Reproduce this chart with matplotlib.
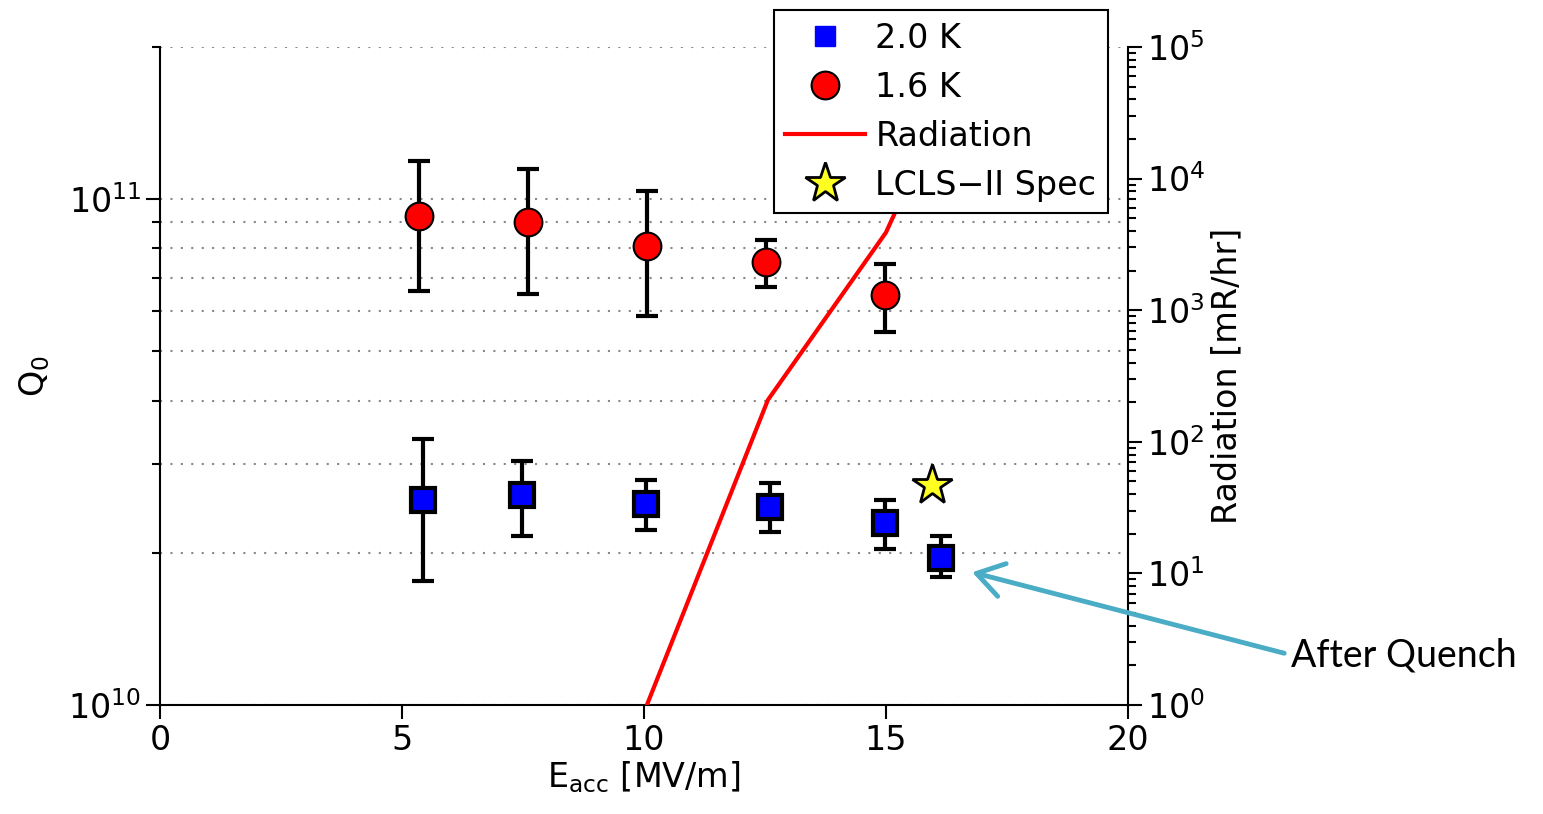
import numpy as np
import matplotlib.pyplot as plt
from matplotlib.lines import Line2D

# 1.6 K points
x16 = [5.35, 7.6, 10.06, 12.52, 14.98]
q16 = [9.25e10, 9.0e10, 8.1e10, 7.5e10, 6.46e10]
q16_hi = [1.19e11, 1.15e11, 1.04e11, 8.3e10, 7.45e10]
q16_lo = [6.6e10, 6.49e10, 5.88e10, 6.7e10, 5.46e10]

# 2.0 K points
x20 = [5.43, 7.48, 10.04, 12.6, 14.98, 16.14]
q20 = [2.54e10, 2.60e10, 2.50e10, 2.46e10, 2.29e10, 1.95e10]
q20_hi = [3.36e10, 3.04e10, 2.79e10, 2.75e10, 2.54e10, 2.16e10]
q20_lo = [1.76e10, 2.16e10, 2.22e10, 2.20e10, 2.03e10, 1.79e10]

# radiation
x_rad = [10.06, 12.56, 15.0, 16.1]
rad = [1.0, 208, 3900, 3.0e4]

# LCLS-II spec
x_spec = [15.95]
q_spec = [2.72e10]

plt.rcParams['font.size'] = 24
plt.rcParams['font.family'] = ['DejaVu Sans']

fig = plt.figure(figsize=(15.43, 8.14), dpi=100)
ax = fig.add_axes([160/1543, 1-705/814, (1128-160)/1543, (705-47)/814])

ax.set_yscale('log')
ax.set_xlim(0, 20)
ax.set_ylim(1e10, 2e11)

lo = np.array(q16) - np.array(q16_lo)
hi = np.array(q16_hi) - np.array(q16)
ax.errorbar(x16, q16, yerr=[lo, hi], fmt='none', ecolor='black', elinewidth=3,
            capsize=8, capthick=3, zorder=3)
ax.plot(x16, q16, 'o', ms=20, mfc='#ff0000', mec='black', mew=1.5, zorder=4)

lo = np.array(q20) - np.array(q20_lo)
hi = np.array(q20_hi) - np.array(q20)
ax.errorbar(x20, q20, yerr=[lo, hi], fmt='none', ecolor='black', elinewidth=3,
            capsize=8, capthick=3, zorder=3)
ax.plot(x20, q20, 's', ms=17, mfc='#0000ff', mec='black', mew=3, zorder=4)

ax.plot(x_spec, q_spec, '*', ms=30, mfc='#ffff22', mec='black', mew=2, zorder=4)

ax.grid(True, which='both', axis='y', linestyle=(0, (1, 4)), color='#888888', lw=1.5)
ax.set_xticks([0, 5, 10, 15, 20])
ax.tick_params(which='major', length=10, width=1.5, direction='out')
ax.tick_params(which='minor', length=6, width=1.5, direction='out')
ax.tick_params(axis='y', which='minor', labelleft=False)
for s in ['top', 'right']:
    ax.spines[s].set_visible(False)
for s in ['left', 'bottom']:
    ax.spines[s].set_linewidth(1.5)
ax.set_ylabel('Q$_0$', labelpad=12)
ax.set_xlabel('E$_{\\mathrm{acc}}$ [MV/m]', labelpad=2)

ax2 = ax.twinx()
ax2.set_yscale('log')
ax2.set_ylim(1, 1e5)
ax2.plot(x_rad, rad, color='#ff0000', lw=3)
for s in ['top', 'left', 'bottom']:
    ax2.spines[s].set_visible(False)
ax2.spines['right'].set_linewidth(1.5)
ax2.tick_params(which='major', length=10, width=1.5, direction='out')
ax2.tick_params(which='minor', length=6, width=1.5, direction='out')
ax2.set_ylabel('Radiation [mR/hr]')

handles = [
    Line2D([], [], ls='none', marker='s', ms=15, mfc='#0000ff', mec='#0000ff'),
    Line2D([], [], ls='none', marker='o', ms=20, mfc='#ff0000', mec='black', mew=1.5),
    Line2D([], [], color='#ff0000', lw=3),
    Line2D([], [], ls='none', marker='*', ms=30, mfc='#ffff22', mec='black', mew=2),
]
labels = ['2.0 K', '1.6 K', 'Radiation', 'LCLS\u2212II Spec']
leg = ax2.legend(handles, labels, loc='upper right',
                 bbox_to_anchor=(1108/1543, 1-10/814), bbox_transform=fig.transFigure,
                 fancybox=False, framealpha=1, edgecolor='black', handlelength=2.4,
                 borderpad=0.35, labelspacing=0.48, handletextpad=0.3, borderaxespad=0)
leg.get_frame().set_linewidth(1.5)

ax2.annotate('After Quench', xy=(16.78, 1.83e10), xycoords=ax.transData,
             xytext=(1291/1543, 1-655/814), textcoords='figure fraction',
             ha='left', va='center', fontsize=27, family='Lato',
             arrowprops=dict(arrowstyle='->,head_length=0.7,head_width=0.45',
                             color='#4bacc6', lw=3.5, relpos=(0, 0.5),
                             shrinkA=3, shrinkB=0))

fig.savefig('out.png', dpi=100)
